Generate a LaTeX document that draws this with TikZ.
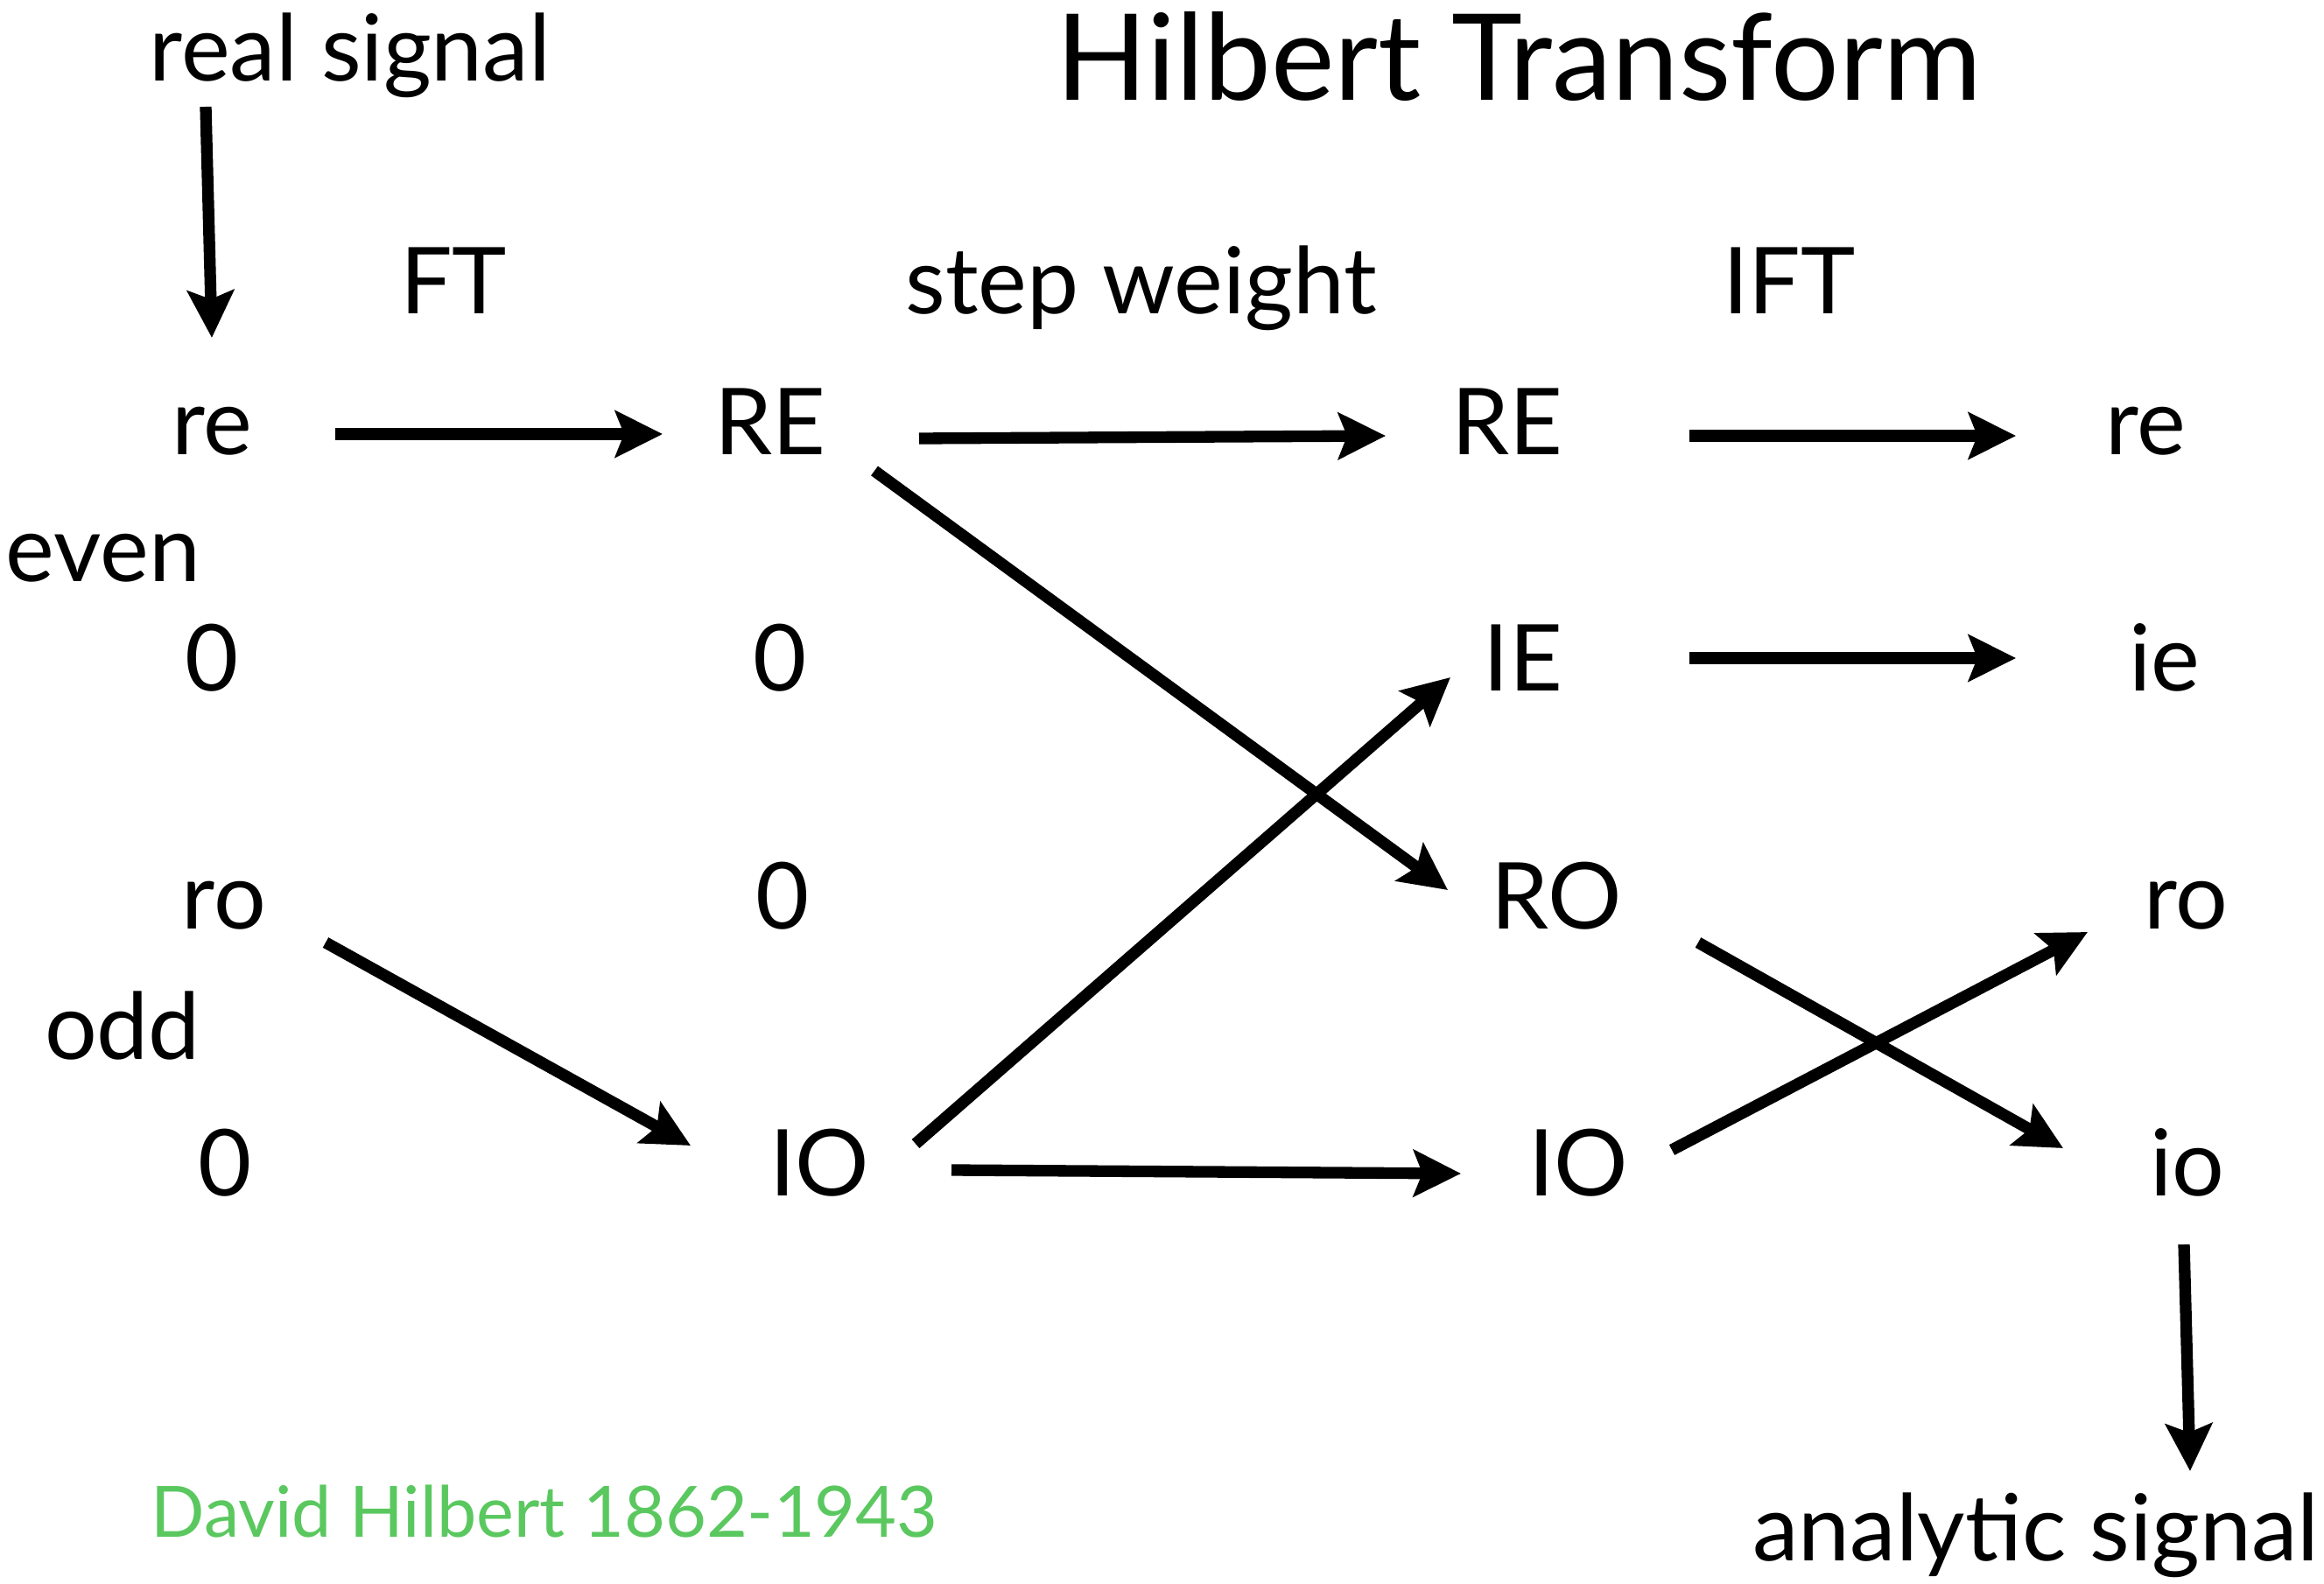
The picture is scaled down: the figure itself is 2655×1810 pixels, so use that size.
\documentclass[tikz,border=0pt]{standalone}
\usepackage{fontspec}
\setmainfont{Lato}
\usetikzlibrary{arrows.meta,calc}
\definecolor{hilbgreen}{RGB}{90,200,95}
\tikzset{
  lbl/.style={font=\fontsize{30}{36}\selectfont, anchor=base, inner sep=0pt},
  arr/.style={-{Stealth[length=5.4mm,width=5.3mm,inset=1mm]}, line width=1.33mm},
}
\begin{document}
\begin{tikzpicture}[x=0.01cm, y=-0.01cm]
  \useasboundingbox (0,0) rectangle (2655,1810);

  % headings
  \node[lbl] (sig) at (400,93) {real signal};
  \node[lbl, font=\fontsize{39}{45}\selectfont] (title) at (1735,115) {Hilbert Transform};
  \foreach \n/\x/\lab in {ft/518/FT, stepw/1304/step weight, ift/2044/IFT}
    \node[lbl] (\n) at (\x,359) {\lab};

  % the four columns
  \foreach \n/\x/\lab in {tre/242/re, fRE/880/RE, wRE/1722/RE, are/2451/re}
    \node[lbl] (\n) at (\x,520) {\lab};
  \foreach \n/\x/\lab in {tze/242/0, fze/891/0, wIE/1740/IE, aie/2473/ie}
    \node[lbl] (\n) at (\x,790) {\lab};
  \foreach \n/\x/\lab in {tro/256/ro, fzo/894/0, wRO/1778/RO, aro/2497/ro}
    \node[lbl] (\n) at (\x,1061) {\lab};
  \foreach \n/\x/\lab in {tzo/257/0, fIO/936/IO, wIO/1803/IO, aio/2499/io}
    \node[lbl] (\n) at (\x,1366) {\lab};

  \node[lbl] (even) at (118,665) {even};
  \node[lbl] (odd) at (140,1210) {odd};
  \node[lbl] (ana) at (2326,1783) {analytic signal};
  \node[lbl, font=\fontsize{23}{27}\selectfont, text=hilbgreen] (dh) at (622,1756) {David Hilbert 1862-1943};

  % FT
  \draw[arr] ($(sig.base)+(-165,29)$) -- ($(tre.base)+(0,-134)$);
  \draw[arr] ($(tre.base)+(141,-24)$) -- ($(fRE.base)+(-123,-24)$);
  \draw[arr] ($(tro.base)+(116,16)$) -- ($(fIO.base)+(-147,-57)$);

  % step weight
  \draw[arr] ($(fRE.base)+(170,-19)$) -- ($(wRE.base)+(-139,-22)$);
  \draw[arr] ($(fRE.base)+(119,18)$) -- ($(wRO.base)+(-124,-44)$);
  \draw[arr] ($(fIO.base)+(110,-59)$) -- ($(wIE.base)+(-83,-16)$);
  \draw[arr] ($(fIO.base)+(151,-29)$) -- ($(wIO.base)+(-134,-25)$);

  % IFT
  \draw[arr] ($(wRE.base)+(208,-22)$) -- ($(are.base)+(-148,-22)$);
  \draw[arr] ($(wIE.base)+(190,-38)$) -- ($(aie.base)+(-170,-38)$);
  \draw[arr] ($(wRO.base)+(162,16)$) -- ($(aio.base)+(-142,-54)$);
  \draw[arr] ($(wIO.base)+(107,-52)$) -- ($(aro.base)+(-112,4)$);
  \draw[arr] ($(aio.base)+(-4,56)$) -- ($(ana.base)+(176,-102)$);
\end{tikzpicture}
\end{document}
